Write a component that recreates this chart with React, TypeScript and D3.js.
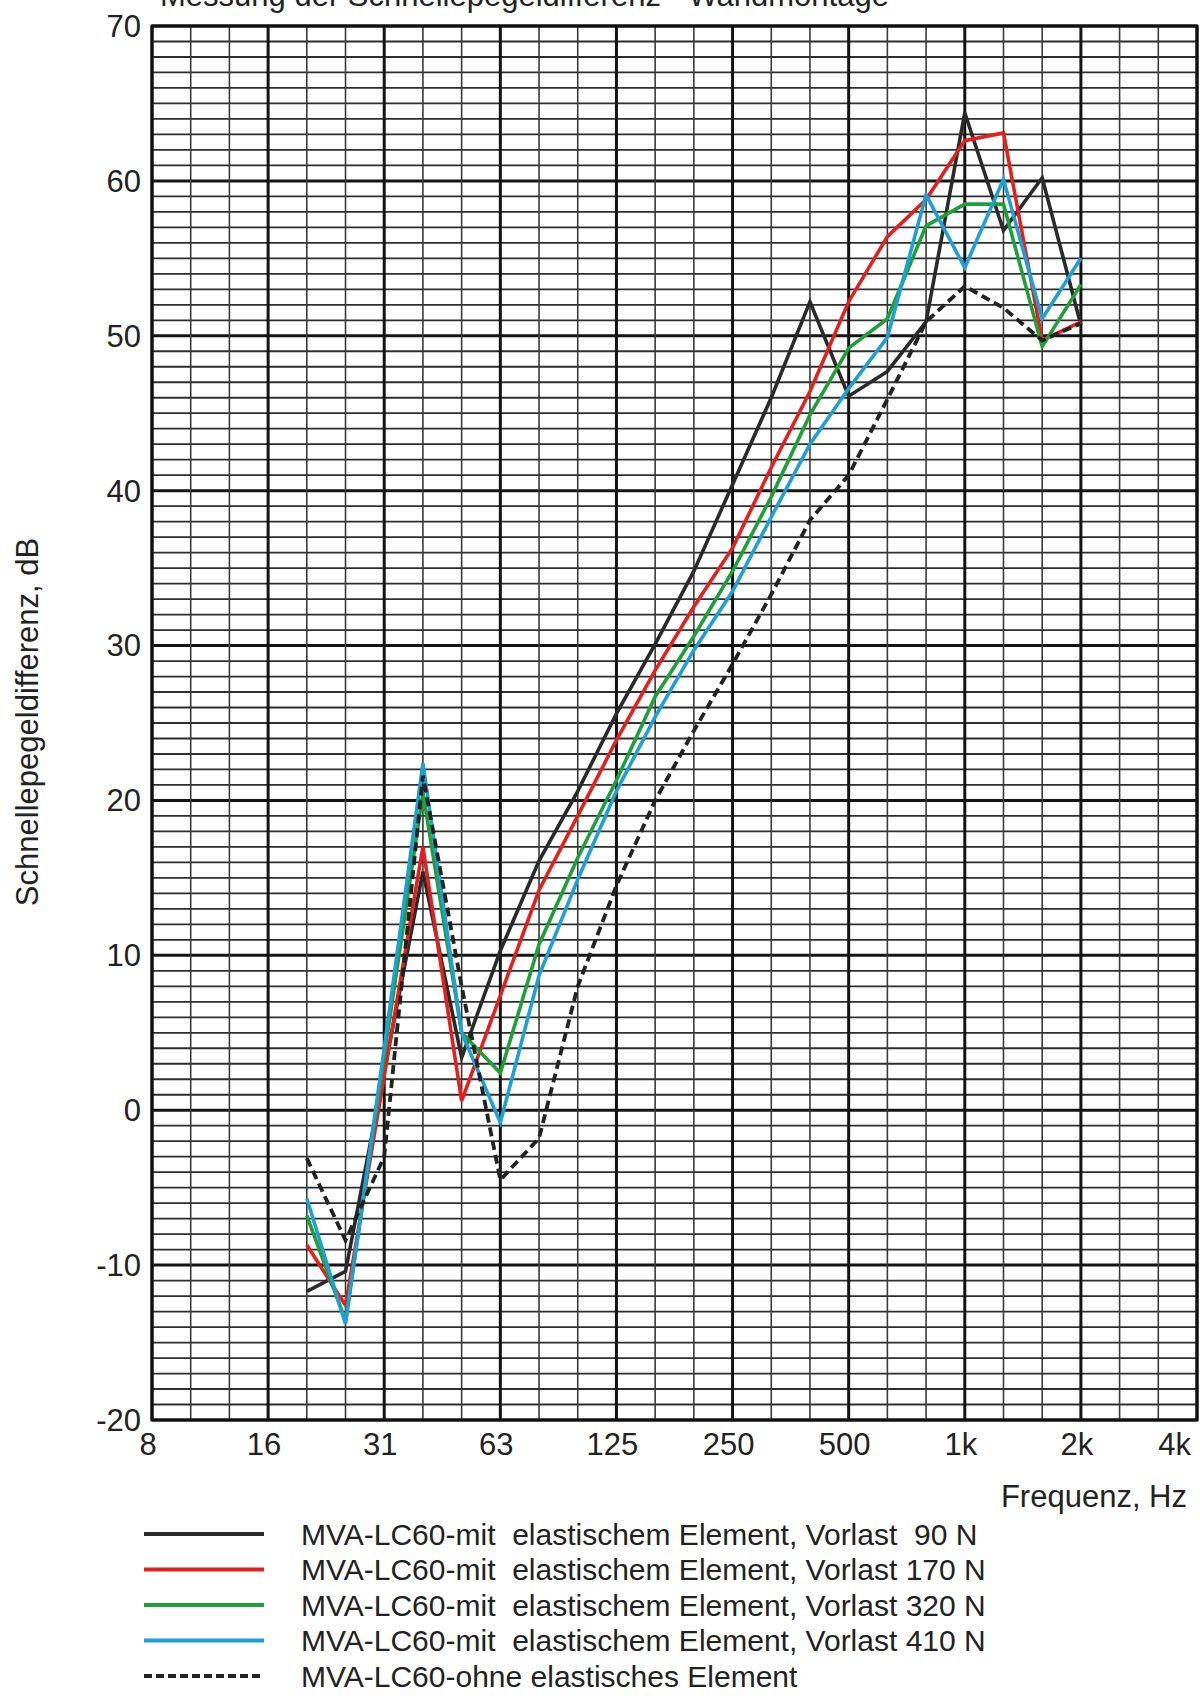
import React from "react";
import * as d3 from "d3";

const bands = ["8","10","12.5","16","20","25","31.5","40","50","63","80","100","125","160","200","250","315","400","500","630","800","1000","1250","1600","2000","2500","3150","4000"];
const octaveBands = ["8","16","31.5","63","125","250","500","1000","2000","4000"];
const xTickLabels = ["8","16","31","63","125","250","500","1k","2k","4k"];
const yTicks = [70,60,50,40,30,20,10,0,-10,-20];

const freqs = ["20","25","31.5","40","50","63","80","100","125","160","200","250","315","400","500","630","800","1000","1250","1600","2000"];
const vorlast90 = [-11.7,-10.4,2.5,15.4,3.4,10.3,16.1,20.6,25.6,30.1,34.8,40.4,46.0,52.2,46.1,47.7,50.9,64.4,56.8,60.2,50.7];
const vorlast170 = [-8.7,-12.6,2.2,17.0,0.6,7.4,14.2,19.0,23.9,28.4,32.5,36.3,41.5,46.4,52.2,56.4,58.8,62.6,63.1,49.7,50.9];
const vorlast320 = [-6.8,-13.6,3.5,20.5,5.0,2.4,10.7,16.3,21.3,26.7,30.6,34.8,39.6,44.9,49.2,51.1,57.1,58.5,58.5,49.3,53.3];
const vorlast410 = [-5.7,-13.8,4.0,22.4,5.0,-0.8,8.7,14.9,20.6,25.4,29.7,33.5,38.3,43.0,46.6,49.9,59.1,54.4,60.1,51.1,55.0];
const ohneElement = [-3.1,-8.4,-3.0,21.6,8.0,-4.5,-1.8,8.0,14.5,20.0,24.5,28.8,33.3,38.1,41.0,45.9,50.9,53.2,51.8,49.7,50.8];

const seriesLabels = [
  "MVA-LC60-mit  elastischem Element, Vorlast  90 N",
  "MVA-LC60-mit  elastischem Element, Vorlast 170 N",
  "MVA-LC60-mit  elastischem Element, Vorlast 320 N",
  "MVA-LC60-mit  elastischem Element, Vorlast 410 N",
  "MVA-LC60-ohne elastisches Element",
];
const seriesValues = [vorlast90, vorlast170, vorlast320, vorlast410, ohneElement];
const seriesColors = ["#2a2a2a", "#e2211f", "#1e9f3a", "#1fa0d4", "#222222"];
const seriesDash = [null, null, null, null, "9 5"];

const W = 1200, H = 1696;
const left = 152, right = 1197, top = 26, bottom = 1420;
const FONT = "'Liberation Sans', Arial, sans-serif";

export default function App() {
  const x = d3.scalePoint<string>().domain(bands).range([left, right]).padding(0);
  const y = d3.scaleLinear().domain([-20, 70]).range([bottom, top]);
  const yMinor = d3.range(-20, 71, 1);
  const line = d3.line<[string, number]>().x(d => x(d[0]) as number).y(d => y(d[1]));

  return (
    <svg width={W} height={H} viewBox={`0 0 ${W} ${H}`} style={{ position: "absolute", left: 0, top: 0, background: "#fff" }} fontFamily={FONT}>
      <rect x={0} y={0} width={W} height={H} fill="#fff" />
      <text x={160} y={6} fontSize={31} fill="#222">Messung der Schnellepegeldifferenz - Wandmontage</text>
      {/* horizontal grid */}
      {yMinor.map(v => (
        <line key={"h" + v} x1={left} x2={right} y1={y(v)} y2={y(v)}
          stroke={v % 10 === 0 ? "#141414" : "#2e2e2e"} strokeWidth={v % 10 === 0 ? 3 : 1.8} />
      ))}
      {/* vertical grid */}
      {bands.map(b => {
        const major = octaveBands.includes(b);
        return (
          <line key={"v" + b} x1={x(b)} x2={x(b)} y1={top} y2={bottom}
            stroke={major ? "#141414" : "#3a3a3a"} strokeWidth={major ? 3 : 1.6} />
        );
      })}
      <rect x={left} y={top} width={right - left} height={bottom - top} fill="none" stroke="#111" strokeWidth={3} />
      {/* y tick labels */}
      {yTicks.map(v => (
        <text key={"yt" + v} x={141} y={y(v)} dy="0.35em" textAnchor="end" fontSize={31} fill="#222">{v}</text>
      ))}
      {/* x tick labels */}
      {octaveBands.map((b, i) => (
        <text key={"xt" + b} x={i === octaveBands.length - 1 ? (x(b) as number) - 6 : (x(b) as number) - 4}
          y={1455} textAnchor={i === octaveBands.length - 1 ? "end" : "middle"} fontSize={31} fill="#222">{xTickLabels[i]}</text>
      ))}
      <text x={1187} y={1507} textAnchor="end" fontSize={31} fill="#222">Frequenz, Hz</text>
      <text transform={`translate(38,722) rotate(-90)`} textAnchor="middle" fontSize={31} fill="#222">Schnellepegeldifferenz, dB</text>
      {/* data lines */}
      {seriesValues.map((vals, si) => (
        <path key={"s" + si} d={line(freqs.map((f, i) => [f, vals[i]] as [string, number])) || ""}
          fill="none" stroke={seriesColors[si]} strokeWidth={si === 4 ? 3.8 : 3.6}
          strokeDasharray={seriesDash[si] || undefined} strokeLinejoin="miter" />
      ))}
      {/* legend */}
      {seriesLabels.map((lab, i) => {
        const cy = 1534 + i * 35.5;
        return (
          <g key={"lg" + i}>
            <line x1={144} x2={264} y1={cy} y2={cy} stroke={seriesColors[i]} strokeWidth={i === 4 ? 4 : 3.8}
              strokeDasharray={i === 4 ? "8 4" : undefined} />
            <text x={301} y={cy} dy="0.36em" fontSize={30} fill="#222" style={{ whiteSpace: "pre" }}>{lab}</text>
          </g>
        );
      })}
    </svg>
  );
}
